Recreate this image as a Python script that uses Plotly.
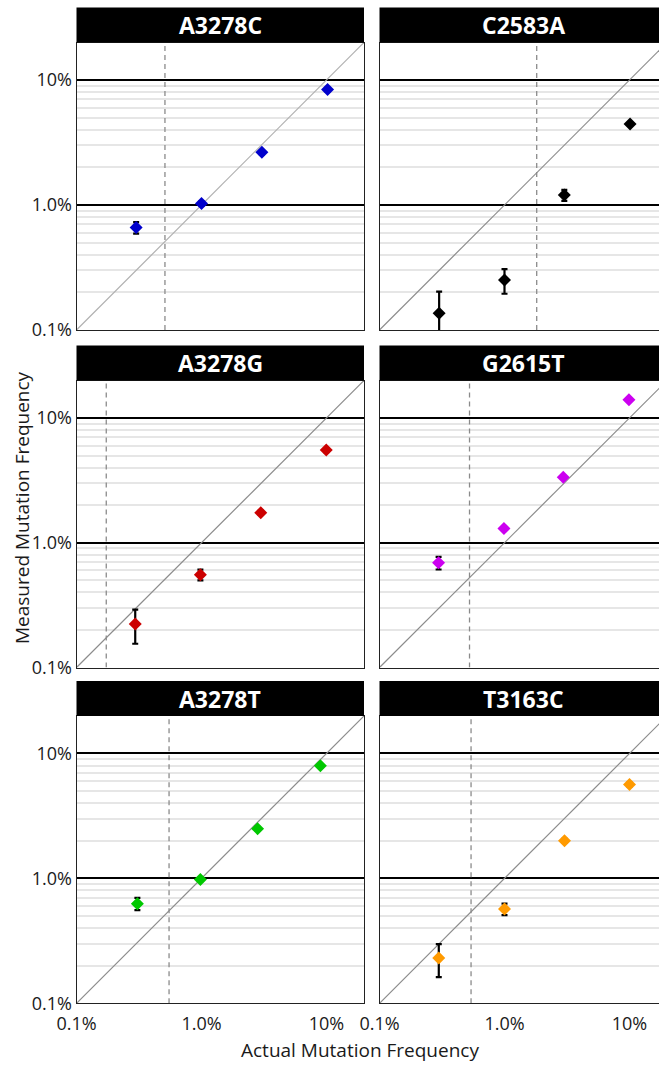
import plotly.graph_objects as go

# Six mutation panels: actual vs measured mutation frequency (percent)
panel_names = ["A3278C", "C2583A", "A3278G", "G2615T", "A3278T", "T3163C"]

actual_freq = [
    [0.30, 1.00, 3.04, 10.2],
    [0.30, 1.00, 3.01, 10.1],
    [0.295, 0.98, 2.98, 9.95],
    [0.297, 0.99, 2.95, 9.9],
    [0.307, 0.98, 2.81, 8.93],
    [0.298, 1.00, 3.02, 10.0],
]

measured_freq = [
    [0.66, 1.03, 2.64, 8.4],
    [0.136, 0.251, 1.20, 4.45],
    [0.223, 0.554, 1.74, 5.53],
    [0.69, 1.30, 3.34, 14.0],
    [0.627, 0.98, 2.50, 7.98],
    [0.23, 0.568, 2.00, 5.65],
]

measured_sd = [
    [0.07, 0.04, 0.10, 0.30],
    [0.067, 0.056, 0.12, 0.15],
    [0.068, 0.055, 0.07, 0.20],
    [0.08, 0.04, 0.10, 0.40],
    [0.07, 0.03, 0.08, 0.25],
    [0.068, 0.06, 0.07, 0.20],
]

detection_limit = [0.51, 1.81, 0.173, 0.525, 0.55, 0.54]

marker_colors = ["#0000CC", "#000000", "#CC0000", "#CC00F0", "#00C800", "#FF9A00"]
identity_colors = ["#b0b0b0", "#8c8c8c", "#8c8c8c", "#8c8c8c", "#8c8c8c", "#8c8c8c"]

tick_vals = [0.1, 1, 10]
tick_text = ["0.1%", "1.0%", "10%"]
minor_vals = [d * m for d in (0.1, 1) for m in range(2, 10)]
axis_lo, axis_hi = 0.1, 20

# page geometry (pixels)
W, H = 659, 1066
col_px = [(76.5, 364.0), (379.5, 659.0)]
row_px = [(42.5, 330.0), (380.5, 667.5), (716.0, 1003.3)]
strip_h = 35.0
px_per_decade = 125.0

FONT = "Open Sans"

fig = go.Figure()
layout = {}
shapes = []
annotations = []

for i, name in enumerate(panel_names):
    r, c = divmod(i, 2)
    n = i + 1
    xname = "x" if n == 1 else f"x{n}"
    yname = "y" if n == 1 else f"y{n}"
    xk = "xaxis" if n == 1 else f"xaxis{n}"
    yk = "yaxis" if n == 1 else f"yaxis{n}"

    x0p, x1p = col_px[c]
    y0p, y1p = row_px[r]
    x_span = (x1p - x0p) / px_per_decade

    layout[xk] = dict(
        type="log",
        domain=[x0p / W, x1p / W],
        range=[-1, -1 + x_span],
        anchor=yname,
        automargin=False,
        showgrid=False,
        zeroline=False,
        showline=True,
        linecolor="#222222",
        linewidth=1,
        mirror=True,
        ticks="",
        ticklabelstandoff=4,
        tickvals=tick_vals,
        ticktext=tick_text,
        showticklabels=(r == 2),
        tickfont=dict(family=FONT, size=18, color="#1a1a1a"),
        fixedrange=True,
    )
    layout[yk] = dict(
        type="log",
        domain=[1 - y1p / H, 1 - y0p / H],
        range=[-1, 1.3],
        anchor=xname,
        automargin=False,
        showgrid=True,
        gridcolor="#000000",
        gridwidth=1.5,
        zeroline=False,
        showline=True,
        linecolor="#222222",
        linewidth=1,
        mirror=(c == 0),
        ticks="",
        tickvals=tick_vals,
        ticktext=tick_text,
        showticklabels=(c == 0),
        tickfont=dict(family=FONT, size=18, color="#1a1a1a"),
        minor=dict(tickvals=minor_vals, showgrid=True, gridcolor="#e6e6e6",
                   gridwidth=1.5, ticks=""),
        fixedrange=True,
    )

    # y = x reference line
    fig.add_trace(go.Scatter(
        x=[axis_lo, axis_hi], y=[axis_lo, axis_hi], mode="lines",
        line=dict(color=identity_colors[i], width=1.2),
        xaxis=xname, yaxis=yname, showlegend=False, hoverinfo="skip",
    ))
    # detection limit
    fig.add_trace(go.Scatter(
        x=[detection_limit[i], detection_limit[i]], y=[axis_lo, axis_hi],
        mode="lines", line=dict(color="#8a8a8a", width=1.3, dash="5px,4px"),
        xaxis=xname, yaxis=yname, showlegend=False, hoverinfo="skip",
    ))
    # measured points with error bars
    fig.add_trace(go.Scatter(
        x=actual_freq[i], y=measured_freq[i], mode="markers",
        marker=dict(symbol="diamond", size=10, color=marker_colors[i],
                    line=dict(width=0)),
        error_y=dict(type="data", array=measured_sd[i], visible=True,
                     color="#000000", thickness=2.2, width=3),
        xaxis=xname, yaxis=yname, showlegend=False,
    ))

    # title strip
    strip_frac = strip_h / (y1p - y0p)
    shapes.append(dict(
        type="rect", xref=f"{xname} domain", yref=f"{yname} domain",
        x0=0, x1=1, y0=1, y1=1 + strip_frac,
        fillcolor="#000000", line=dict(width=0), layer="above",
    ))
    annotations.append(dict(
        text=f"<b>{name}</b>", xref=f"{xname} domain", yref=f"{yname} domain",
        x=0.5 if c == 0 else (364 - 76.5) / 2 / (x1p - x0p), y=1 + strip_frac / 2,
        xanchor="center", yanchor="middle", showarrow=False,
        font=dict(family=FONT, size=23, color="#ffffff"),
    ))

annotations.append(dict(
    text="Measured Mutation Frequency", xref="paper", yref="paper",
    x=22 / W, y=1 - 508 / H, textangle=-90, showarrow=False,
    xanchor="center", yanchor="middle",
    font=dict(family=FONT, size=19, color="#1a1a1a"),
))
annotations.append(dict(
    text="Actual Mutation Frequency", xref="paper", yref="paper",
    x=360 / W, y=1 - 1050 / H, showarrow=False,
    xanchor="center", yanchor="middle",
    font=dict(family=FONT, size=19, color="#1a1a1a"),
))

fig.update_layout(
    width=W, height=H,
    margin=dict(l=0, r=0, t=0, b=0),
    paper_bgcolor="#ffffff", plot_bgcolor="#ffffff",
    shapes=shapes, annotations=annotations,
    **layout,
)

fig.write_html("out.html")
